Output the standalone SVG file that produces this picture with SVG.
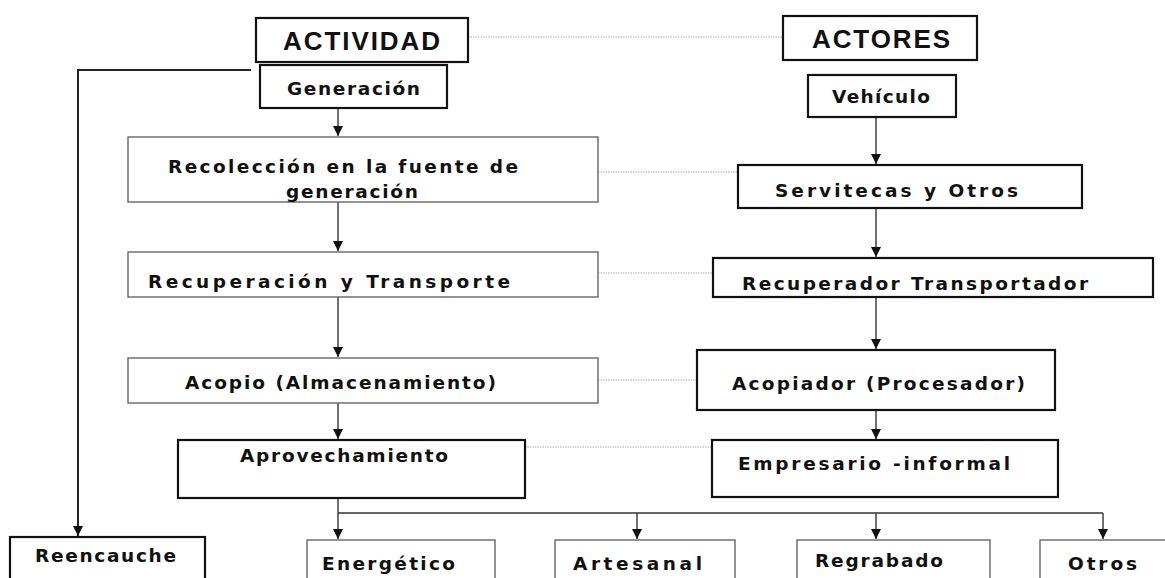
<svg xmlns="http://www.w3.org/2000/svg" width="1165" height="578" viewBox="0 0 1165 578">
<defs>
<marker id="ah" viewBox="0 0 10 10" refX="10" refY="5" markerWidth="10" markerHeight="10" markerUnits="userSpaceOnUse" orient="auto">
<path d="M0,0 L10,5 L0,10 z" fill="#111"/>
</marker>
</defs>
<style>
.thick{fill:#fff;stroke:#111;stroke-width:2.2}
.thin{fill:#fff;stroke:#666;stroke-width:1.4}
.t{font-family:"DejaVu Sans",sans-serif;font-weight:bold;font-size:18.5px;fill:#111}
.h{font-family:"Liberation Sans",Arial,sans-serif;font-weight:bold;font-size:26px;fill:#111}
.c{fill:none;stroke:#333;stroke-width:1.4}
.d{fill:none;stroke:#aaa;stroke-width:1.2;stroke-dasharray:1.5 1}
</style>
<rect width="1165" height="578" fill="#fff"/>
<g id="connectors">
<line class="d" x1="468" y1="37" x2="783" y2="37"/>
<line class="d" x1="598" y1="172" x2="738" y2="172"/>
<line class="d" x1="598" y1="273" x2="713" y2="273"/>
<line class="d" x1="598" y1="380" x2="697" y2="380"/>
<line class="d" x1="525" y1="447" x2="712" y2="447"/>
<polyline class="c" points="251,70 78,70 78,536" marker-end="url(#ah)" style="stroke-width:2;stroke:#222"/>
<line class="c" x1="338" y1="108" x2="338" y2="136" marker-end="url(#ah)"/>
<line class="c" x1="338" y1="202" x2="338" y2="251" marker-end="url(#ah)"/>
<line class="c" x1="338" y1="297" x2="338" y2="357" marker-end="url(#ah)"/>
<line class="c" x1="338" y1="403" x2="338" y2="439" marker-end="url(#ah)"/>
<line class="c" x1="876" y1="117" x2="876" y2="164" marker-end="url(#ah)"/>
<line class="c" x1="876" y1="208" x2="876" y2="257" marker-end="url(#ah)"/>
<line class="c" x1="876" y1="297" x2="876" y2="349" marker-end="url(#ah)"/>
<line class="c" x1="876" y1="410" x2="876" y2="439" marker-end="url(#ah)"/>
<line class="c" x1="338" y1="470" x2="338" y2="539" marker-end="url(#ah)"/>
<polyline class="c" points="338,513 1103,513"/>
<line class="c" x1="637" y1="513" x2="637" y2="539" marker-end="url(#ah)"/>
<line class="c" x1="876" y1="513" x2="876" y2="539" marker-end="url(#ah)"/>
<line class="c" x1="1103" y1="513" x2="1103" y2="539" marker-end="url(#ah)"/>
</g>
<g id="actividad"><rect class="thick" x="256" y="18" width="212" height="44"/><text class="h" x="283" y="50" textLength="157" lengthAdjust="spacing">ACTIVIDAD</text></g>
<g id="actores"><rect class="thick" x="783" y="16" width="194" height="44"/><text class="h" x="812" y="48" textLength="138" lengthAdjust="spacing">ACTORES</text></g>
<g id="generacion"><rect class="thick" x="260" y="65" width="187" height="43"/><text class="t" x="287" y="95" textLength="133" lengthAdjust="spacing">Generación</text></g>
<g id="vehiculo"><rect class="thick" x="808" y="75" width="148" height="42"/><text class="t" x="832" y="103" textLength="98" lengthAdjust="spacing">Vehículo</text></g>
<g id="recoleccion"><rect class="thin" x="128" y="137" width="470" height="65"/><text class="t" x="168" y="173" textLength="350" lengthAdjust="spacing">Recolección en la fuente de</text><text class="t" x="286" y="198" textLength="132" lengthAdjust="spacing">generación</text></g>
<g id="servitecas"><rect class="thick" x="738" y="165" width="344" height="43"/><text class="t" x="775" y="197" textLength="243" lengthAdjust="spacing">Servitecas y Otros</text></g>
<g id="recuperacion"><rect class="thin" x="128" y="252" width="470" height="45"/><text class="t" x="148" y="288" textLength="362" lengthAdjust="spacing">Recuperación y Transporte</text></g>
<g id="recuperador"><rect class="thick" x="713" y="258" width="440" height="39"/><text class="t" x="742" y="290" textLength="346" lengthAdjust="spacing">Recuperador Transportador</text></g>
<g id="acopio"><rect class="thin" x="128" y="358" width="470" height="45"/><text class="t" x="185" y="389" textLength="311" lengthAdjust="spacing">Acopio (Almacenamiento)</text></g>
<g id="acopiador"><rect class="thick" x="697" y="350" width="358" height="60"/><text class="t" x="732" y="390" textLength="293" lengthAdjust="spacing">Acopiador (Procesador)</text></g>
<g id="aprovechamiento"><rect class="thick" x="178" y="440" width="347" height="58"/><text class="t" x="240" y="462" textLength="208" lengthAdjust="spacing">Aprovechamiento</text></g>
<g id="empresario"><rect class="thick" x="712" y="440" width="346" height="57"/><text class="t" x="738" y="470" textLength="272" lengthAdjust="spacing">Empresario -informal</text></g>
<g id="reencauche"><rect class="thick" x="10" y="537" width="195" height="50"/><text class="t" x="35" y="562" textLength="141" lengthAdjust="spacing">Reencauche</text></g>
<g id="energetico"><rect class="thin" x="307" y="540" width="188" height="45"/><text class="t" x="322" y="570" textLength="133" lengthAdjust="spacing">Energético</text></g>
<g id="artesanal"><rect class="thin" x="555" y="540" width="180" height="45"/><text class="t" x="573" y="570" textLength="129" lengthAdjust="spacing">Artesanal</text></g>
<g id="regrabado"><rect class="thin" x="797" y="540" width="193" height="45"/><text class="t" x="815" y="567" textLength="128" lengthAdjust="spacing">Regrabado</text></g>
<g id="otros"><rect class="thin" x="1040" y="540" width="130" height="45"/><text class="t" x="1068" y="570" textLength="69" lengthAdjust="spacing">Otros</text></g>
</svg>
